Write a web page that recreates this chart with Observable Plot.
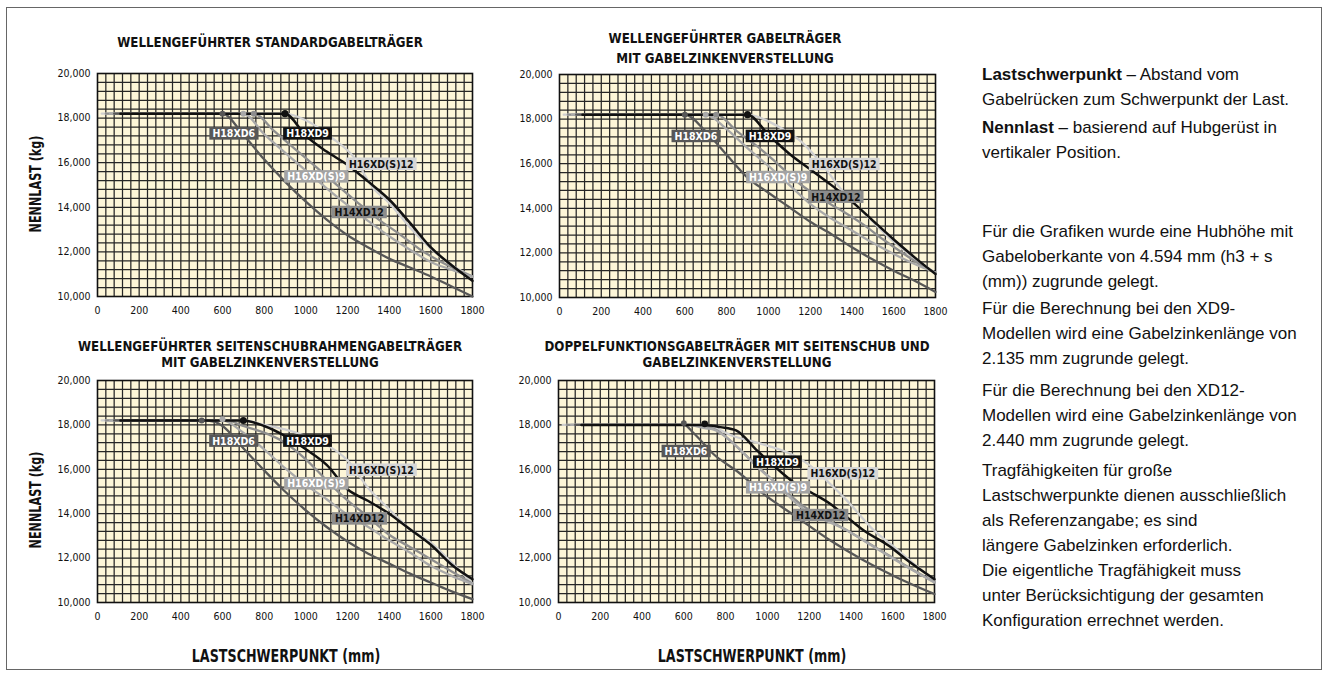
<!DOCTYPE html>
<html><head><meta charset="utf-8">
<script src="https://cdn.jsdelivr.net/npm/d3@7"></script>
<script src="https://cdn.jsdelivr.net/npm/@observablehq/plot@0.6"></script>
<style>
html,body{margin:0;padding:0;background:#fff}
body{width:1329px;height:677px;position:relative;overflow:hidden;font-family:"Liberation Sans",Arial,sans-serif;color:#111}
#frame{position:absolute;left:6px;top:7px;width:1316px;height:663px;border:1.5px solid #666;box-sizing:border-box}
.chart{position:absolute}
.chart svg{overflow:visible}
.title{position:absolute;width:600px;text-align:center;font-family:"DejaVu Sans Condensed","Liberation Sans Narrow",sans-serif;font-weight:bold;font-size:14.5px;line-height:16px;color:#111;transform:scaleX(0.91)}
.ylab{position:absolute;width:200px;text-align:center;font-family:"DejaVu Sans Condensed",sans-serif;font-weight:bold;font-size:15px;line-height:16px;transform:rotate(-90deg) scaleX(0.83);color:#111}
.xlab{position:absolute;width:400px;text-align:center;font-family:"DejaVu Sans Condensed",sans-serif;font-weight:bold;font-size:17px;line-height:18px;color:#111;transform:scaleX(0.83)}
.para{position:absolute;left:982px;width:345px;font-size:17px;line-height:25px;color:#111;white-space:nowrap}
</style>
</head><body>
<div id="frame"></div>

<div class="title" style="left:-30px;top:34px">WELLENGEFÜHRTER STANDARDGABELTRÄGER</div>
<div class="title" style="left:425px;top:28px;line-height:20px">WELLENGEFÜHRTER GABELTRÄGER<br>MIT GABELZINKENVERSTELLUNG</div>
<div class="title" style="left:-30px;top:338px">WELLENGEFÜHRTER SEITENSCHUBRAHMENGABELTRÄGER<br>MIT GABELZINKENVERSTELLUNG</div>
<div class="title" style="left:437px;top:338px">DOPPELFUNKTIONSGABELTRÄGER MIT SEITENSCHUB UND<br>GABELZINKENVERSTELLUNG</div>

<div class="ylab" style="left:-64px;top:176px">NENNLAST (kg)</div>
<div class="ylab" style="left:-64px;top:492px">NENNLAST (kg)</div>
<div class="xlab" style="left:86px;top:647px">LASTSCHWERPUNKT (mm)</div>
<div class="xlab" style="left:552px;top:647px">LASTSCHWERPUNKT (mm)</div>

<div class="para" style="top:62px"><b>Lastschwerpunkt</b> – Abstand vom<br>Gabelrücken zum Schwerpunkt der Last.</div>
<div class="para" style="top:115px"><b>Nennlast</b> – basierend auf Hubgerüst in<br>vertikaler Position.</div>
<div class="para" style="top:219px">Für die Grafiken wurde eine Hubhöhe mit<br>Gabeloberkante von 4.594 mm (h3 + s<br>(mm)) zugrunde gelegt.</div>
<div class="para" style="top:296px">Für die Berechnung bei den XD9-<br>Modellen wird eine Gabelzinkenlänge von<br>2.135 mm zugrunde gelegt.</div>
<div class="para" style="top:378px">Für die Berechnung bei den XD12-<br>Modellen wird eine Gabelzinkenlänge von<br>2.440 mm zugrunde gelegt.</div>
<div class="para" style="top:458px">Tragfähigkeiten für große<br>Lastschwerpunkte dienen ausschließlich<br>als Referenzangabe; es sind<br>längere Gabelzinken erforderlich.<br>Die eigentliche Tragfähigkeit muss<br>unter Berücksichtigung der gesamten<br>Konfiguration errechnet werden.</div>

<div id="c1" class="chart" style="left:0px;top:60px"></div>
<div id="c2" class="chart" style="left:480px;top:60px"></div>
<div id="c3" class="chart" style="left:0px;top:370px"></div>
<div id="c4" class="chart" style="left:480px;top:370px"></div>

<script>
// ---- axes ----
const xTicks = [0,200,400,600,800,1000,1200,1400,1600,1800];
const yTicks = [10000,12000,14000,16000,18000,20000];
const seriesNames = ["H16XD(S)12","H14XD12","H16XD(S)9","H18XD6","H18XD9"];

// ---- chart 1: Wellengeführter Standardgabelträger ----
const c1_H16XDS12 = [[20,18200],[900,18200],[1000,17900],[1120,17150],[1230,16250],[1320,14900],[1400,14200],[1500,13100],[1600,12150],[1700,11400],[1800,10900]];
const c1_H14XD12 = [[40,18200],[750,18200],[850,17400],[950,16600],[1050,15800],[1150,14990],[1250,14200],[1350,13450],[1450,12800],[1550,12100],[1650,11550],[1750,11100],[1800,10900]];
const c1_H16XDS9 = [[60,18200],[700,18200],[800,17280],[900,16450],[1000,15650],[1100,14850],[1200,14100],[1300,13380],[1400,12700],[1500,12100],[1600,11550],[1700,11200],[1800,10880]];
const c1_H18XD6 = [[80,18200],[600,18200],[700,17250],[800,16150],[900,15150],[1000,14250],[1100,13450],[1200,12750],[1300,12200],[1400,11700],[1500,11300],[1600,10900],[1700,10450],[1800,10000]];
const c1_H18XD9 = [[110,18200],[900,18200],[1000,17200],[1100,16500],[1200,15900],[1300,15150],[1400,14350],[1500,13300],[1600,12200],[1700,11400],[1800,10700]];
const c1_dots = [["H18XD6",600,18200],["H16XD(S)9",700,18200],["H14XD12",750,18200],["H18XD9",900,18200]];
const c1_labels = [["H18XD6",654,17284],["H18XD9",1008,17284],["H16XD(S)12",1362,15925],["H16XD(S)9",1050,15358],["H14XD12",1256,13761]];

// ---- chart 2: Wellengeführter Gabelträger mit Gabelzinkenverstellung ----
const c2_H16XDS12 = [[20,18200],[900,18200],[1000,17900],[1060,17600],[1150,17050],[1280,15700],[1340,14950],[1400,14350],[1500,13400],[1600,12500],[1700,11750],[1800,11100]];
const c2_H14XD12 = [[40,18200],[750,18200],[850,17450],[950,16750],[1050,15950],[1150,15100],[1250,14450],[1350,13900],[1450,13300],[1550,12600],[1650,11950],[1750,11350],[1800,11120]];
const c2_H16XDS9 = [[60,18200],[700,18200],[800,17550],[900,16700],[1000,15900],[1100,15050],[1200,14200],[1300,13550],[1400,13000],[1500,12450],[1600,11950],[1700,11500],[1800,11120]];
const c2_H18XD6 = [[80,18200],[600,18200],[700,17450],[800,16400],[900,15380],[1000,14700],[1100,14050],[1200,13400],[1300,12850],[1400,12250],[1500,11700],[1600,11200],[1700,10750],[1800,10250]];
const c2_H18XD9 = [[110,18200],[900,18200],[1000,17300],[1100,16450],[1200,15750],[1300,15050],[1400,14300],[1500,13450],[1600,12600],[1700,11800],[1800,11050]];
const c2_dots = [["H18XD6",600,18200],["H16XD(S)9",700,18200],["H14XD12",750,18200],["H18XD9",900,18200]];
const c2_labels = [["H18XD6",653,17216],["H18XD9",1008,17216],["H16XD(S)12",1363,15958],["H16XD(S)9",1047,15374],["H14XD12",1323,14491]];

// ---- chart 3: Wellengeführter Seitenschubrahmengabelträger ----
const c3_H16XDS12 = [[20,18200],[700,18200],[800,18000],[900,17800],[1000,17500],[1100,17100],[1200,16400],[1300,15150],[1400,14200],[1500,13300],[1600,12700],[1700,11800],[1800,10850]];
const c3_H14XD12 = [[40,18200],[620,18200],[700,17950],[800,17650],[900,17200],[1000,16450],[1100,15500],[1200,14600],[1300,13850],[1400,13050],[1500,12500],[1600,11950],[1700,11400],[1800,10850]];
const c3_H16XDS9 = [[60,18200],[600,18200],[700,17650],[800,16900],[900,16050],[1000,15300],[1100,14650],[1200,13950],[1300,13400],[1400,12800],[1500,12250],[1600,11650],[1700,11200],[1800,10830]];
const c3_H18XD6 = [[80,18200],[500,18200],[560,18150],[600,17950],[700,16950],[800,15950],[900,15000],[1000,14150],[1100,13400],[1200,12750],[1300,12200],[1400,11750],[1500,11300],[1600,10900],[1700,10500],[1800,10150]];
const c3_H18XD9 = [[110,18200],[700,18200],[800,17950],[900,17500],[1000,16900],[1100,16200],[1200,15100],[1300,14570],[1400,14000],[1500,13300],[1600,12600],[1700,11700],[1800,11050]];
const c3_dots = [["H18XD6",500,18200],["H16XD(S)9",600,18250],["H18XD9",700,18200]];
const c3_labels = [["H18XD6",653,17263],["H18XD9",1008,17263],["H16XD(S)12",1363,15955],["H16XD(S)9",1050,15338],["H14XD12",1258,13759]];

// ---- chart 4: Doppelfunktionsgabelträger ----
const c4_H16XDS12 = [[20,18000],[700,18000],[835,17500],[950,17200],[1110,16700],[1200,16200],[1300,15350],[1380,14600],[1510,13250],[1600,12550],[1700,11750],[1800,10980]];
const c4_H14XD12 = [[40,18000],[640,18000],[720,17900],[760,17750],[850,17050],[945,16200],[1070,15150],[1150,14500],[1390,13200],[1550,12300],[1710,11400],[1800,10920]];
const c4_H16XDS9 = [[60,18000],[620,18000],[700,17850],[740,17800],[840,17150],[935,16250],[1060,15200],[1140,14450],[1380,13250],[1540,12330],[1700,11430],[1800,10900]];
const c4_H18XD6 = [[80,18000],[600,18000],[650,17600],[740,16700],[870,15800],[980,14900],[1140,13850],[1300,12800],[1460,11900],[1620,11130],[1800,10380]];
const c4_H18XD9 = [[110,18000],[700,18000],[775,17900],[850,17750],[950,16850],[1050,16000],[1150,15250],[1220,14900],[1300,14450],[1380,13850],[1460,13250],[1590,12500],[1670,11900],[1800,11050]];
const c4_dots = [["H18XD6",600,18080],["H18XD9",700,18050]];
const c4_labels = [["H18XD6",610,16797],["H18XD9",1048,16316],["H16XD(S)12",1361,15789],["H16XD(S)9",1051,15158],["H14XD12",1255,13910]];

// ---- styles ----
const lineColor = {"H16XD(S)12":"#cfcfcf","H14XD12":"#8e8e8e","H16XD(S)9":"#a9a9a9","H18XD6":"#575757","H18XD9":"#111111"};
const lineWidth = {"H16XD(S)12":2.3,"H14XD12":2.3,"H16XD(S)9":2.3,"H18XD6":2.3,"H18XD9":2.5};
const boxColor = {"H16XD(S)12":"#d6d6d6","H14XD12":"#8c8c8c","H16XD(S)9":"#a3a3a3","H18XD6":"#575757","H18XD9":"#111111"};
const boxText = {"H16XD(S)12":"#111","H14XD12":"#111","H16XD(S)9":"#fff","H18XD6":"#fff","H18XD9":"#fff"};
const narrow = '"DejaVu Sans Condensed",sans-serif';

function makeChart(el, series, dots, labels, m) {
  const marks = [
    Plot.frame({fill:"#fdf6d8", stroke:"none"}),
    Plot.ruleX(d3.range(40,1800,40), {stroke:"#262626", strokeWidth:1.25}),
    Plot.ruleY(d3.range(10400,20000,400), {stroke:"#262626", strokeWidth:1.25}),
    Plot.frame({stroke:"#111", strokeWidth:1.6})
  ];
  seriesNames.forEach((name,i) => {
    marks.push(Plot.line(series[i], {x:d=>d[0], y:d=>d[1], stroke:lineColor[name], strokeWidth:lineWidth[name], curve:"monotone-x"}));
  });
  marks.push(Plot.dot(dots, {x:d=>d[1], y:d=>d[2], r:d=>d[0]==="H18XD9"?3.6:2.6, fill:d=>lineColor[d[0]], stroke:"none"}));
  marks.push(Plot.text(labels, {x:d=>d[1], y:d=>d[2], text:d=>d[0], fill:d=>boxText[d[0]], fontWeight:"bold", fontSize:10.5, fontFamily:narrow}));
  const svg = Plot.plot({
    width: 480, height: m.h,
    marginLeft: m.l, marginRight: m.r, marginTop: m.t, marginBottom: m.b,
    style: {background:"transparent", fontFamily: narrow, fontSize:"10.5px", color:"#111", overflow:"visible"},
    color: {type:"identity"},
    x: {domain:[0,1800], ticks:xTicks, tickSize:0, tickPadding:10, label:null, tickFormat:d=>String(d)},
    y: {domain:[10000,20000], ticks:yTicks, tickSize:0, tickPadding:7, label:null, tickFormat:d3.format(",")},
    marks
  });
  document.getElementById(el).appendChild(svg);
  const names = new Set(seriesNames);
  Array.from(svg.querySelectorAll("text")).forEach(t => {
    const name = t.textContent.trim();
    if (!names.has(name)) return;
    const b = t.getBBox();
    const h = 12.5;
    const r = document.createElementNS("http://www.w3.org/2000/svg","rect");
    r.setAttribute("x", b.x - 3);
    r.setAttribute("y", b.y + (b.height - h) / 2);
    r.setAttribute("width", b.width + 6);
    r.setAttribute("height", h);
    r.setAttribute("fill", boxColor[name]);
    if (t.hasAttribute("transform")) r.setAttribute("transform", t.getAttribute("transform"));
    t.parentNode.insertBefore(r, t);
  });
}

makeChart("c1", [c1_H16XDS12,c1_H14XD12,c1_H16XDS9,c1_H18XD6,c1_H18XD9], c1_dots, c1_labels, {h:270,l:97,r:8,t:13,b:34});
makeChart("c2", [c2_H16XDS12,c2_H14XD12,c2_H16XDS9,c2_H18XD6,c2_H18XD9], c2_dots, c2_labels, {h:270,l:79,r:25,t:14,b:33});
makeChart("c3", [c3_H16XDS12,c3_H14XD12,c3_H16XDS9,c3_H18XD6,c3_H18XD9], c3_dots, c3_labels, {h:260,l:97,r:8,t:10,b:28});
makeChart("c4", [c4_H16XDS12,c4_H14XD12,c4_H16XDS9,c4_H18XD6,c4_H18XD9], c4_dots, c4_labels, {h:260,l:78,r:26,t:10,b:28});
</script>
</body></html>
